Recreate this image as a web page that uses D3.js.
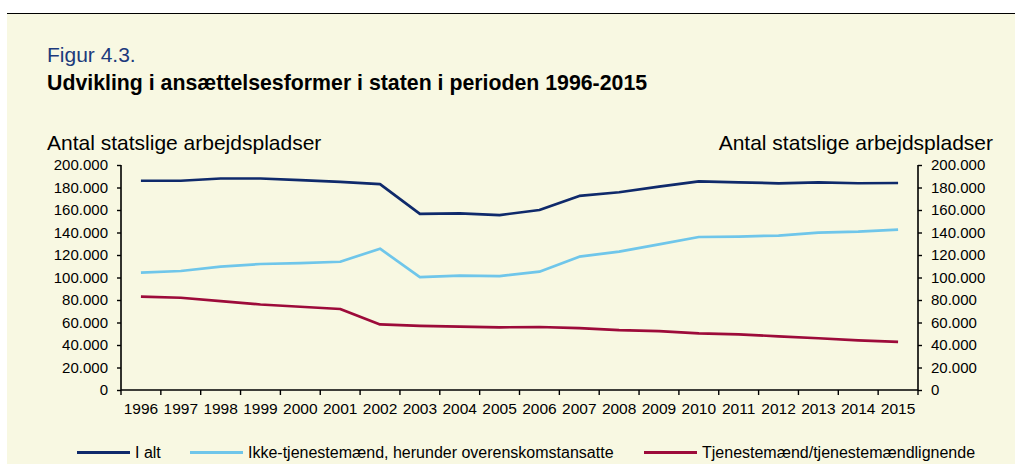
<!DOCTYPE html>
<html>
<head>
<meta charset="utf-8">
<script src="https://cdn.jsdelivr.net/npm/d3@7"></script>
<style>
  body { margin: 0; background: #fff; }
  svg text { font-family: "Liberation Sans", Arial, sans-serif; }
</style>
</head>
<body>
<svg width="1015" height="464"></svg>
<script>
// Data (antal statslige arbejdspladser)
const years = ["1996","1997","1998","1999","2000","2001","2002","2003","2004","2005",
               "2006","2007","2008","2009","2010","2011","2012","2013","2014","2015"];
const iAlt = [186000, 186000, 188000, 188000, 186500, 185000, 183000, 156500, 157000, 155500,
              160000, 172500, 175800, 180800, 185500, 184600, 183700, 184600, 183800, 184000];
const ikkeTjm = [104300, 105800, 109600, 112000, 112700, 114000, 125600, 100400, 101600, 101300,
                 105200, 118500, 123000, 129500, 136000, 136400, 137300, 139900, 140700, 142500];
const tjm = [83000, 82000, 79000, 76000, 74000, 72000, 58300, 57000, 56300, 55700,
             56000, 55000, 53300, 52400, 50400, 49500, 47700, 46000, 44100, 42700];
const yTicks = [0, 20000, 40000, 60000, 80000, 100000, 120000, 140000, 160000, 180000, 200000];
const seriesNames = ["I alt", "Ikke-tjenestemænd, herunder overenskomstansatte", "Tjenestemænd/tjenestemændlignende"];
const seriesColors = ["#0f2a6b", "#6fc6ea", "#9d0b3a"];

const svg = d3.select("svg");

// background panel + top rule
svg.append("rect").attr("x", 7).attr("y", 14).attr("width", 1008).attr("height", 450).attr("fill", "#f8f8e2");
svg.append("line").attr("x1", 7).attr("x2", 1015).attr("y1", 13.5).attr("y2", 13.5)
  .attr("stroke", "#000").attr("stroke-width", 1);

// titles
svg.append("text").attr("x", 47).attr("y", 62).attr("fill", "#1c3a7c")
  .style("font-size", "21px").text("Figur 4.3.");
svg.append("text").attr("x", 47).attr("y", 90).attr("fill", "#000")
  .style("font-size", "21.3px").style("font-weight", "bold")
  .text("Udvikling i ansættelsesformer i staten i perioden 1996-2015");
svg.append("text").attr("x", 47).attr("y", 150).style("font-size", "21px")
  .text("Antal statslige arbejdspladser");
svg.append("text").attr("x", 993).attr("y", 150).attr("text-anchor", "end").style("font-size", "21px")
  .text("Antal statslige arbejdspladser");

// scales
const plotL = 121, plotR = 918, plotT = 165, plotB = 390;
const x = d3.scaleBand().domain(years).range([plotL, plotR]);
const y = d3.scaleLinear().domain([0, 200000]).range([plotB, plotT]);
const fmt = d => d3.format(",")(d).replace(/,/g, ".");

// y axes
const yAxisL = svg.append("g").attr("transform", `translate(${plotL},0)`)
  .call(d3.axisLeft(y).tickValues(yTicks).tickFormat(fmt).tickSize(4).tickPadding(9));
const yAxisR = svg.append("g").attr("transform", `translate(${plotR},0)`)
  .call(d3.axisRight(y).tickValues(yTicks).tickFormat(fmt).tickSize(4).tickPadding(9));
[yAxisL, yAxisR].forEach(g => {
  g.select(".domain").attr("stroke-width", 1.6).attr("d", `M0,${plotT}V${plotB}`);
  g.selectAll(".tick line").attr("stroke-width", 1.4);
  g.selectAll("text").style("font-size", "15px").attr("fill", "#000")
    .style("font-family", "Liberation Sans, Arial, sans-serif");
});

// x axis: ticks at category boundaries
const xAxis = svg.append("g").attr("transform", `translate(0,${plotB})`);
xAxis.append("line").attr("x1", plotL).attr("x2", plotR).attr("stroke", "#000").attr("stroke-width", 1.6);
xAxis.selectAll(".xt").data(years.concat(["end"])).enter().append("line")
  .attr("x1", (d, i) => plotL + i * x.bandwidth()).attr("x2", (d, i) => plotL + i * x.bandwidth())
  .attr("y1", 0).attr("y2", 5).attr("stroke", "#000").attr("stroke-width", 1.4);
xAxis.selectAll(".xl").data(years).enter().append("text")
  .attr("x", d => x(d) + x.bandwidth() / 2).attr("y", 23.5).attr("text-anchor", "middle")
  .style("font-size", "15.5px").text(d => d);

// lines
const line = d3.line().x((d, i) => x(years[i]) + x.bandwidth() / 2).y(d => y(d));
[iAlt, ikkeTjm, tjm].forEach((s, k) => {
  svg.append("path").datum(s).attr("d", line).attr("fill", "none")
    .attr("stroke", seriesColors[k]).attr("stroke-width", 2.7).attr("stroke-linejoin", "round");
});

// legend
const legendX = [77, 190, 644];
seriesNames.forEach((n, k) => {
  const g = svg.append("g").attr("transform", `translate(${legendX[k]},452.5)`);
  g.append("line").attr("x1", 0).attr("x2", 53).attr("y1", 0).attr("y2", 0)
    .attr("stroke", seriesColors[k]).attr("stroke-width", 3);
  g.append("text").attr("x", 58).attr("y", 5.5).style("font-size", "16px").text(n);
});
</script>
</body>
</html>
